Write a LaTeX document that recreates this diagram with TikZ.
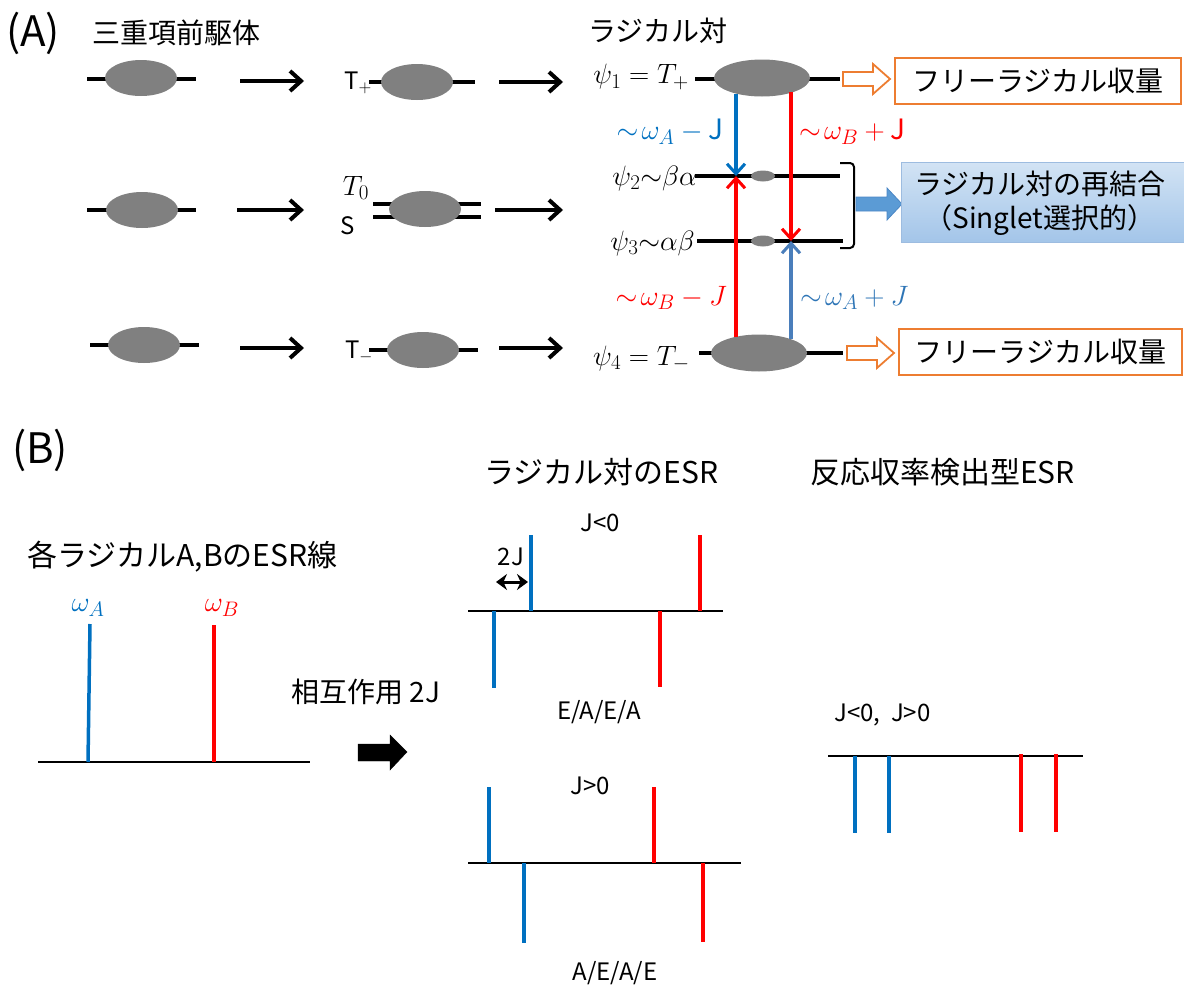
\RequirePackage{fix-cm}
\documentclass[tikz,border=0pt]{standalone}
\usepackage{fontspec}
\setmainfont{Noto Sans CJK JP}
\usetikzlibrary{shapes.geometric,arrows.meta}
\DeclareMathSizes{28}{28}{21}{16}
\definecolor{blobgray}{HTML}{808080}
\definecolor{blueA}{HTML}{0070C0}
\definecolor{redB}{HTML}{FF0000}
\definecolor{steelA}{HTML}{4A7EBB}
\definecolor{steelT}{HTML}{2E75B6}
\definecolor{orangeC}{HTML}{ED7D31}
\definecolor{fatblue}{HTML}{5B9BD5}
\definecolor{fatblueline}{HTML}{4A86C5}
\definecolor{boxtop}{HTML}{D2E3F4}
\definecolor{boxbot}{HTML}{A3C5E9}
\definecolor{boxline}{HTML}{9DBCE0}
\newcommand\fsBig{\fontsize{42}{46}\selectfont}
\newcommand\fsHead{\fontsize{28}{32}\selectfont}
\newcommand\fsHeadB{\fontsize{30}{34}\selectfont}
\newcommand\fsMath{\fontsize{28}{32}\selectfont}
\newcommand\fsSmall{\fontsize{24}{28}\selectfont}
\begin{document}
\begin{tikzpicture}[x=1pt,y=-1pt,
  lev/.style={line width=4.5pt},
  blob/.style={ellipse, fill=blobgray, inner sep=0pt, minimum width=72pt, minimum height=36pt},
  bigblob/.style={ellipse, fill=blobgray, inner sep=0pt, minimum width=96pt, minimum height=37pt},
  smallblob/.style={ellipse, fill=blobgray, inner sep=0pt, minimum width=24pt, minimum height=11pt},
  blkarrow/.style={line width=4pt, -{Straight Barb[length=11pt,width=20pt,line width=4pt]}},
  colarrow/.style={line width=3.5pt, -{Straight Barb[length=10pt,width=18pt,line width=3pt]}},
  txt/.style={inner sep=0pt},
  esr/.style={line width=3.5pt},
  base/.style={line width=2.2pt},
  hollow/.style={draw=orangeC, fill=white, line width=1.8pt, line join=miter},
  resbox/.style={draw=orangeC, line width=1.8pt, anchor=north west, inner sep=0pt, font=\fsHead},
]
\useasboundingbox (0,0) rectangle (1184,988);

% ---------------- (A) ----------------
\node[txt, anchor=west, font=\fsBig] (labA) at (6,33) {(A)};
\node[txt, anchor=west, font=\fsHead] (precursor) at (92,33) {三重項前駆体};
\node[txt, anchor=west, font=\fsHead] (rpair) at (588,31) {ラジカル対};

% row 1
\draw[lev] (87,79) -- (196,79);
\node[blob] (p1) at (141,78) {};
\coordinate (a11) at (240,81); \coordinate (a12) at (304,81);
\draw[blkarrow] (a11) -- (a12);
\node[txt, font=\fsSmall] (tp) at (358,83) {T$_{+}$};
\draw[lev] (369,82) -- (475,82);
\node[blob] (q1) at (417,82) {};
\coordinate (a21) at (499,82); \coordinate (a22) at (563,82);
\draw[blkarrow] (a21) -- (a22);

% row 2
\draw[lev] (87,210) -- (196,210);
\node[blob] (p2) at (142,210) {};
\coordinate (b11) at (237,210); \coordinate (b12) at (304,210);
\draw[blkarrow] (b11) -- (b12);
\node[txt, font=\fsMath] (t0) at (356,188) {$T_0$};
\node[txt, font=\fsSmall] (sS) at (348,226) {S};
\draw[line width=3.5pt] (373,204) -- (481,204);
\draw[line width=3.5pt] (373,217) -- (481,217);
\node[blob] (q2) at (425,209) {};
\coordinate (b21) at (495,210); \coordinate (b22) at (563,210);
\draw[blkarrow] (b21) -- (b22);

% row 3
\draw[lev] (90,345) -- (199,345);
\node[blob] (p3) at (144,345) {};
\coordinate (c11) at (240,348); \coordinate (c12) at (304,348);
\draw[blkarrow] (c11) -- (c12);
\node[txt, font=\fsSmall] (tm) at (359,352) {T$_{-}$};
\draw[lev] (369,350) -- (478,350);
\node[blob] (q3) at (423,350) {};
\coordinate (c21) at (499,348); \coordinate (c22) at (563,348);
\draw[blkarrow] (c21) -- (c22);

% radical pair levels
\node[txt, anchor=east, font=\fsMath] (psi1) at (689,77) {$\psi_1 = T_+$};
\draw[lev] (695,79) -- (840,79);
\node[bigblob] (r1) at (762,78) {};
\node[txt, anchor=east, font=\fsMath] (psi2) at (697,178) {$\psi_2{\sim}\beta\alpha$};
\draw[lev] (695,176) -- (840,176);
\node[smallblob] (s2) at (763,176) {};
\node[txt, anchor=east, font=\fsMath] (psi3) at (695,243) {$\psi_3{\sim}\alpha\beta$};
\draw[lev] (697,241) -- (843,241);
\node[smallblob] (s3) at (763,241) {};
\node[txt, anchor=east, font=\fsMath] (psi4) at (690,359) {$\psi_4 = T_-$};
\draw[lev] (699,353) -- (843,353);
\node[bigblob] (r4) at (759,353) {};

% transitions
\coordinate (u1) at (736,94); \coordinate (u2) at (736,176);
\coordinate (v1) at (791,92); \coordinate (v2) at (791,241);
\coordinate (w1) at (736,337); \coordinate (w2) at (736,176);
\coordinate (z1) at (791,339); \coordinate (z2) at (791,241);
\draw[colarrow, draw=blueA] (u1) -- (u2);
\draw[colarrow, draw=redB] (v1) -- (v2);
\draw[colarrow, draw=redB] (w1) -- (w2);
\draw[colarrow, draw=steelA] (z1) -- (z2);
\node[txt, font=\fsMath, text=blueA, anchor=east] (lab1) at (724,132) {$\sim\!\omega_A - \mathrm{J}$};
\node[txt, font=\fsMath, text=redB, anchor=west] (lab2) at (799,132) {$\sim\!\omega_B + \mathrm{J}$};
\node[txt, font=\fsMath, text=redB, anchor=east] (lab3) at (727,298) {$\sim\!\omega_B - J$};
\node[txt, font=\fsMath, text=steelT, anchor=west] (lab4) at (800,298) {$\sim\!\omega_A + J$};

% hollow arrows and result boxes
\draw[hollow] (843,72) -- (873,72) -- (873,64) -- (890,79) -- (873,94) -- (873,86) -- (843,86) -- cycle;
\node[resbox, minimum width=286pt, minimum height=46pt] (free1) at (894,57) {フリーラジカル収量};
\draw[hollow] (847,346) -- (877,346) -- (877,338) -- (894,353) -- (877,368) -- (877,360) -- (847,360) -- cycle;
\node[resbox, minimum width=283pt, minimum height=46pt] (free2) at (898,328) {フリーラジカル収量};

% bracket, fat arrow, recombination box
\draw[line width=2pt, rounded corners=4pt] (840,163) -- (854,163) -- (854,248) -- (840,248);
\draw[fill=fatblue, draw=fatblueline, line width=0.8pt] (856,197) -- (887,197) -- (887,188) -- (902,204) -- (887,220) -- (887,211) -- (856,211) -- cycle;
\node[anchor=north west, draw=boxline, line width=1pt, top color=boxtop, bottom color=boxbot,
      minimum width=290pt, minimum height=80pt, inner sep=0pt] (recomb) at (901,162) {};
\node[txt, font=\fsHead, align=center, anchor=center] (recombtxt) at (1040,203)
      {ラジカル対の再結合\\[2pt]（Singlet選択的）};

% ---------------- (B) ----------------
\node[txt, anchor=west, font=\fsBig] (labB) at (12,450) {(B)};
\node[txt, anchor=west, font=\fsHeadB] (hesr) at (484,472) {ラジカル対のESR};
\node[txt, anchor=west, font=\fsHeadB] (hrydmr) at (810,472) {反応収率検出型ESR};
\node[txt, anchor=west, font=\fsHeadB] (hsep) at (27,557) {各ラジカルA,BのESR線};

% separate lines
\node[txt, font=\fsMath, text=blueA] (wa) at (88,608) {$\omega_A$};
\node[txt, font=\fsMath, text=redB] (wb) at (222,608) {$\omega_B$};
\draw[base] (38,762) -- (310,762);
\draw[esr, draw=blueA] (90,624) -- (88,762);
\draw[esr, draw=redB] (214,625) -- (214,762);

\node[txt, anchor=west, font=\fsHead] (inter) at (291,692) {相互作用 2J};
\draw[fill=black] (358,744) -- (390,744) -- (390,735) -- (407,752) -- (390,770) -- (390,761) -- (358,761) -- cycle;

% J<0 spectrum
\node[txt, font=\fsSmall] (jneg) at (600,523) {J<0};
\node[txt, font=\fsSmall] (twoj) at (511,557) {2J};
\coordinate (dj1) at (496,582); \coordinate (dj2) at (528,582);
\draw[line width=3pt, {Stealth[length=11pt,width=16pt]}-{Stealth[length=11pt,width=16pt]}] (dj1) -- (dj2);
\draw[base] (468,611) -- (723,611);
\draw[esr, draw=blueA] (531,535) -- (531,611);
\draw[esr, draw=blueA] (494,611) -- (494,688);
\draw[esr, draw=redB] (700,535) -- (700,611);
\draw[esr, draw=redB] (660,611) -- (660,687);
\node[txt, font=\fsSmall] (eaea) at (599,712) {E/A/E/A};

% J>0 spectrum
\node[txt, font=\fsSmall] (jpos) at (590,786) {J>0};
\draw[base] (468,863) -- (741,863);
\draw[esr, draw=blueA] (489,787) -- (489,863);
\draw[esr, draw=blueA] (524,863) -- (524,943);
\draw[esr, draw=redB] (654,787) -- (654,863);
\draw[esr, draw=redB] (703,863) -- (703,942);
\node[txt, font=\fsSmall] (aeae) at (615,973) {A/E/A/E};

% RYDMR spectrum
\node[txt, anchor=west, font=\fsSmall] (jboth) at (834,715) {J<0,\ \ J>0};
\draw[base] (828,756) -- (1083,756);
\draw[esr, draw=blueA] (855,756) -- (855,833);
\draw[esr, draw=blueA] (889,756) -- (889,833);
\draw[esr, draw=redB] (1021,754) -- (1021,832);
\draw[esr, draw=redB] (1056,754) -- (1056,832);
\end{tikzpicture}
\end{document}
